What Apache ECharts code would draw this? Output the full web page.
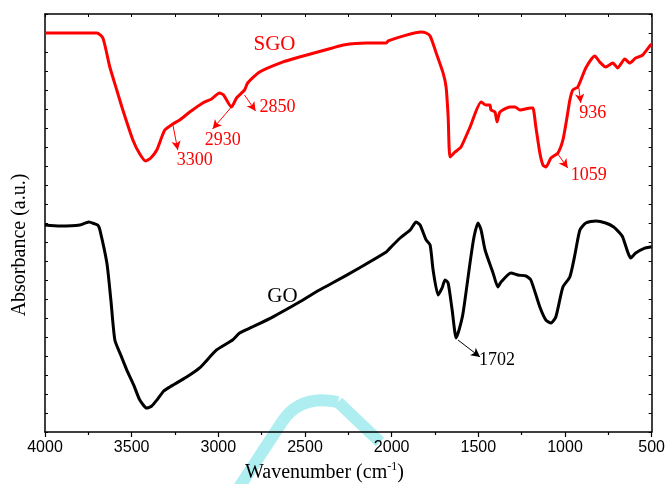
<!DOCTYPE html>
<html>
<head>
<meta charset="utf-8">
<script src="https://cdn.jsdelivr.net/npm/echarts@6/dist/echarts.min.js"></script>
<style>
html,body{margin:0;padding:0;background:#fff;}
#chart{width:668px;height:484px;}
</style>
</head>
<body>
<div id="chart"></div>
<script>
// FTIR spectra: wavenumber (cm-1) and absorbance in arbitrary units (offset traces)
const sgoWavenumber = [4000,3856,3701,3666,3626,3586,3551,3493,3453,3419,3390,3355,3309,3263,3223,3165,3090,3039,2993,2970,2924,2895,2849,2831,2762,2630,2532,2342,2279,2146,2031,2020,1916,1830,1801,1778,1743,1703,1686,1674,1663,1634,1600,1548,1484,1456,1433,1427,1404,1392,1375,1317,1289,1260,1197,1185,1168,1145,1127,1110,1081,1041,1012,989,972,955,926,880,828,799,765,724,696,655,627,592,552,506,500];
const sgoAbsorbance = [21.0,21.0,21.0,20.74,19.21,18.0,16.95,15.37,14.63,14.26,14.42,14.84,15.89,16.21,16.42,16.84,17.32,17.53,17.84,17.74,17.11,17.58,18.0,18.37,18.95,19.47,19.74,20.21,20.37,20.47,20.47,20.58,20.89,21.05,21.0,20.84,19.95,18.89,18.16,16.58,14.47,14.74,15.0,16.05,17.37,17.21,17.21,16.95,16.84,16.32,16.84,17.11,17.11,16.95,17.05,17.05,16.05,14.68,14.05,13.95,14.42,14.68,15.37,16.53,17.47,18.0,18.16,19.16,19.79,19.47,19.21,19.42,19.16,19.63,19.42,19.68,19.84,20.37,20.42];

const goWavenumber = [4000,3914,3799,3747,3712,3695,3683,3643,3620,3597,3563,3528,3488,3453,3413,3384,3355,3315,3280,3183,3108,3010,2918,2877,2803,2687,2532,2417,2342,2187,2031,2020,1951,1893,1859,1836,1801,1778,1761,1732,1709,1692,1674,1651,1628,1611,1588,1548,1525,1502,1484,1461,1415,1387,1369,1312,1271,1225,1197,1145,1110,1081,1053,1012,972,943,914,880,822,765,719,684,667,638,621,592,540,506,500];
const goAbsorbance = [10.89,10.84,10.89,11.05,10.95,10.89,10.63,8.89,6.95,4.84,4.05,3.26,2.47,1.68,1.26,1.37,1.68,2.16,2.37,2.89,3.37,4.32,4.84,5.21,5.53,6.05,6.84,7.47,7.84,8.63,9.47,9.58,10.21,10.63,11.05,10.89,10.11,9.84,8.53,7.21,7.58,8.0,7.84,6.42,4.95,5.37,6.26,8.89,10.26,11.0,10.63,9.58,8.37,7.63,7.89,8.37,8.26,8.21,8.0,6.58,5.89,5.74,6.05,7.63,8.16,9.32,10.63,11.0,11.11,11.0,10.79,10.47,10.26,9.47,9.16,9.42,9.68,9.74,9.75];

// Peak annotations: label text, label anchor, arrow start, arrow end
const sgoPeakLabels = ['3300','2930','2850','936','1059'];
const sgoLabelAt = [[3136,14.32],[2975,15.37],[2659,17.11],[840,16.79],[863,13.53]];
const sgoArrowFrom = [[3263,16.21],[2924,17.11],[2849,17.74],[920,18.11],[1041,14.63]];
const sgoArrowTo = [[3234,14.84],[3033,15.95],[2785,16.89],[909,17.32],[984,13.89]];

const goPeakLabels = ['1702'];
const goLabelAt = [[1392,3.79]];
const goArrowFrom = [[1617,4.84]];
const goArrowTo = [[1490,3.95]];

const seriesNames = ['SGO','GO'];
const seriesNameAt = [[2676,20.42],[2630,7.11]];

const pairs = (xs, ys) => xs.map((x, i) => [x, ys[i]]);

function annotations(color, labels, labelAt, from, to, name, nameAt) {
  const textPoints = labels.map((t, i) => ({
    coord: labelAt[i], value: t,
    label: {show: true, formatter: t, fontSize: 18, color: color, fontFamily: 'Liberation Serif'}
  }));
  textPoints.push({
    coord: nameAt, value: name,
    label: {show: true, formatter: name, fontSize: 21, color: color, fontFamily: 'Liberation Serif'}
  });
  return {
    markPoint: {
      symbol: 'circle', symbolSize: 1, silent: true, data: textPoints,
      itemStyle: {color: 'rgba(0,0,0,0)'},
      label: {show: true, position: 'inside'}
    },
    markLine: {
      silent: true,
      symbol: ['none', 'arrow'],
      symbolSize: [7, 9],
      label: {show: false},
      lineStyle: {color: color, width: 1, type: 'solid'},
      data: from.map((f, i) => [{coord: f}, {coord: to[i]}])
    }
  };
}

const chart = echarts.init(document.getElementById('chart'), null, {renderer: 'canvas'});

const axisLine = {show: true, onZero: false, lineStyle: {color: '#000', width: 1.5}};
const mark = '#aeeef0';

chart.setOption({
  animation: false,
  backgroundColor: 'transparent',
  grid: {left: 45, right: 15, top: 14, bottom: 52, containLabel: false},
  xAxis: [{
    type: 'value', inverse: true, min: 500, max: 4000, interval: 500,
    axisLine: axisLine,
    axisTick: {show: true, inside: false, length: 5, lineStyle: {color: '#000', width: 1.2}},
    minorTick: {show: true, splitNumber: 2, length: 3, lineStyle: {color: '#000', width: 1.2}},
    axisLabel: {show: true, fontSize: 16, color: '#000', fontFamily: 'Liberation Sans', margin: 8,
      formatter: v => String(v)},
    splitLine: {show: false}
  }, {
    type: 'value', inverse: true, min: 500, max: 4000, interval: 250, position: 'top',
    axisLine: axisLine,
    axisTick: {show: true, inside: true, length: 3, lineStyle: {color: '#000', width: 1}},
    axisLabel: {show: false}, splitLine: {show: false}
  }],
  yAxis: [{
    type: 'value', min: 0, max: 22, interval: 1,
    axisLine: axisLine,
    axisTick: {show: true, inside: true, length: 3, lineStyle: {color: '#000', width: 1}},
    axisLabel: {show: false}, splitLine: {show: false}
  }, {
    type: 'value', min: 0, max: 22, interval: 1, position: 'right',
    axisLine: axisLine,
    axisTick: {show: true, inside: true, length: 3, lineStyle: {color: '#000', width: 1}},
    axisLabel: {show: false}, splitLine: {show: false}
  }],
  graphic: [
    // faint cyan stamp sitting on its own layer underneath the plot
    {type: 'line', zlevel: -1, silent: true, shape: {x1: 236, y1: 492, x2: 282, y2: 422},
      style: {stroke: mark, lineWidth: 12, lineCap: 'butt'}},
    {type: 'bezierCurve', zlevel: -1, silent: true,
      shape: {x1: 282, y1: 422, cpx1: 300, cpy1: 394, x2: 338, y2: 402},
      style: {stroke: mark, lineWidth: 12, fill: 'none'}},
    {type: 'line', zlevel: -1, silent: true, shape: {x1: 338, y1: 402, x2: 380, y2: 442},
      style: {stroke: mark, lineWidth: 12, lineCap: 'butt'}},
    {
      type: 'text', left: 245, top: 461, z: 10,
      style: {
        text: '{a|Wavenumber (cm}{s|-1}{a|)}',
        rich: {
          a: {fontSize: 20, fontFamily: 'Liberation Serif', fill: '#000'},
          s: {fontSize: 12, fontFamily: 'Liberation Serif', fill: '#000', verticalAlign: 'top', padding: [0, 0, 12, 0]}
        }
      }
    },
    {
      type: 'text', x: 20, y: 245, rotation: Math.PI / 2, z: 10,
      style: {text: 'Absorbance (a.u.)', fontSize: 20, fontFamily: 'Liberation Serif', fill: '#000',
        align: 'center', verticalAlign: 'middle'}
    }
  ],
  series: [
    Object.assign({
      name: seriesNames[0], type: 'line', showSymbol: false, smooth: 0.2,
      data: pairs(sgoWavenumber, sgoAbsorbance),
      lineStyle: {color: '#ff0000', width: 3}, itemStyle: {color: '#ff0000'}
    }, annotations('#ff0000', sgoPeakLabels, sgoLabelAt, sgoArrowFrom, sgoArrowTo, seriesNames[0], seriesNameAt[0])),
    Object.assign({
      name: seriesNames[1], type: 'line', showSymbol: false, smooth: 0.2,
      data: pairs(goWavenumber, goAbsorbance),
      lineStyle: {color: '#000', width: 3}, itemStyle: {color: '#000'}
    }, annotations('#000', goPeakLabels, goLabelAt, goArrowFrom, goArrowTo, seriesNames[1], seriesNameAt[1]))
  ]
});
</script>
</body>
</html>
